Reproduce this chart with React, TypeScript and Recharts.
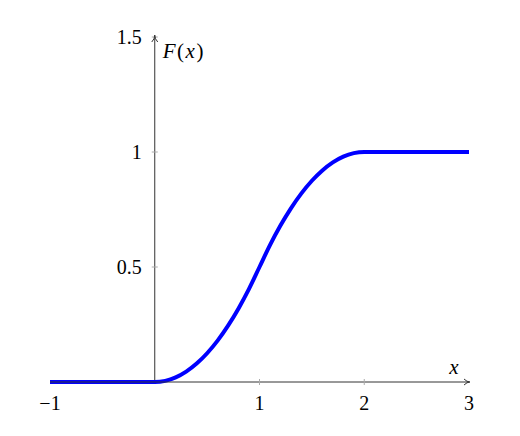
import { LineChart, Line, XAxis, YAxis, ReferenceLine, ReferenceDot } from 'recharts';

// values
const cdfX = [-1, 0, 0.1, 0.2, 0.3, 0.4, 0.5, 0.6, 0.7, 0.8, 0.9, 1, 1.1, 1.2, 1.3, 1.4, 1.5, 1.6, 1.7, 1.8, 1.9, 2, 3];
const cdfY = [0, 0, 0.005, 0.02, 0.045, 0.08, 0.125, 0.18, 0.245, 0.32, 0.405, 0.5, 0.595, 0.68, 0.755, 0.82, 0.875, 0.92, 0.955, 0.98, 0.995, 1, 1];

const xTicks = [-1, 1, 2, 3];
const xTickMarks = [1, 2];
const yTicks = [0.5, 1, 1.5];

const data = cdfX.map((x, i) => ({ x, y: cdfY[i] }));

const FONT = '"Liberation Serif", "Times New Roman", serif';
const AXIS = '#333';
const TICK = '#aaa';

const fmtX = (v: number) => (v < 0 ? '\u2212' + Math.abs(v) : String(v));

export default function App() {
  return (
    <div style={{ position: 'absolute', left: 0, top: 0 }}>
      <LineChart
        width={520}
        height={436}
        data={data}
        margin={{ top: 37, right: 51, bottom: 24, left: 50 }}
      >
        <XAxis
          type="number"
          dataKey="x"
          domain={[-1, 3]}
          ticks={xTicks}
          tickFormatter={fmtX}
          tickLine={false}
          tickSize={0}
          tickMargin={14}
          height={30}
          axisLine={{ stroke: AXIS, strokeWidth: 1 }}
          tick={{ fill: '#000', fontSize: 20, fontFamily: FONT }}
          interval={0}
        />
        <YAxis hide type="number" domain={[0, 1.5]} />
        <ReferenceLine x={0} stroke={AXIS} strokeWidth={1} />

        {xTickMarks.map((v) => (
          <ReferenceDot
            key={`xt-${v}`}
            x={v}
            y={0}
            ifOverflow="visible"
            shape={(p: any) => (
              <line x1={p.cx} x2={p.cx} y1={p.cy - 3} y2={p.cy + 3} stroke={TICK} strokeWidth={1} />
            )}
          />
        ))}

        {yTicks.map((v) => (
          <ReferenceDot
            key={`yt-${v}`}
            x={0}
            y={v}
            ifOverflow="visible"
            shape={(p: any) => (
              <g>
                <line x1={p.cx - 3} x2={p.cx + 3} y1={p.cy} y2={p.cy} stroke={TICK} strokeWidth={1} />
                <text
                  x={p.cx - 13}
                  y={p.cy}
                  textAnchor="end"
                  dominantBaseline="central"
                  fontSize={20}
                  fontFamily={FONT}
                  fill="#000"
                >
                  {v}
                </text>
              </g>
            )}
          />
        ))}

        <Line
          type="monotone"
          dataKey="y"
          stroke="#0000ff"
          strokeWidth={4}
          dot={false}
          activeDot={false}
          isAnimationActive={false}
        />

        {/* x axis arrow + label */}
        <ReferenceDot
          x={3}
          y={0}
          ifOverflow="visible"
          shape={(p: any) => (
            <g>
              <path
                d={`M${p.cx - 5},${p.cy - 3} Q${p.cx - 2},${p.cy} ${p.cx + 1},${p.cy} Q${p.cx - 2},${p.cy} ${p.cx - 5},${p.cy + 3}`}
                fill="none"
                stroke={AXIS}
                strokeWidth={1}
              />
              <text
                x={p.cx - 15}
                y={p.cy - 8}
                textAnchor="middle"
                fontSize={21}
                fontStyle="italic"
                fontFamily={FONT}
                fill="#000"
              >
                x
              </text>
            </g>
          )}
        />
        {/* y axis arrow + label */}
        <ReferenceDot
          x={0}
          y={1.5}
          ifOverflow="visible"
          shape={(p: any) => (
            <g>
              <path
                d={`M${p.cx - 3},${p.cy + 5} Q${p.cx},${p.cy + 2} ${p.cx},${p.cy - 2} Q${p.cx},${p.cy + 2} ${p.cx + 3},${p.cy + 5}`}
                fill="none"
                stroke={AXIS}
                strokeWidth={1}
              />
              <text
                x={p.cx + 8}
                y={p.cy + 21}
                fontSize={21}
                letterSpacing={1.5}
                fontFamily={FONT}
                fill="#000"
              >
                <tspan fontStyle="italic">F</tspan>
                <tspan>(</tspan>
                <tspan fontStyle="italic">x</tspan>
                <tspan>)</tspan>
              </text>
            </g>
          )}
        />
      </LineChart>
    </div>
  );
}
